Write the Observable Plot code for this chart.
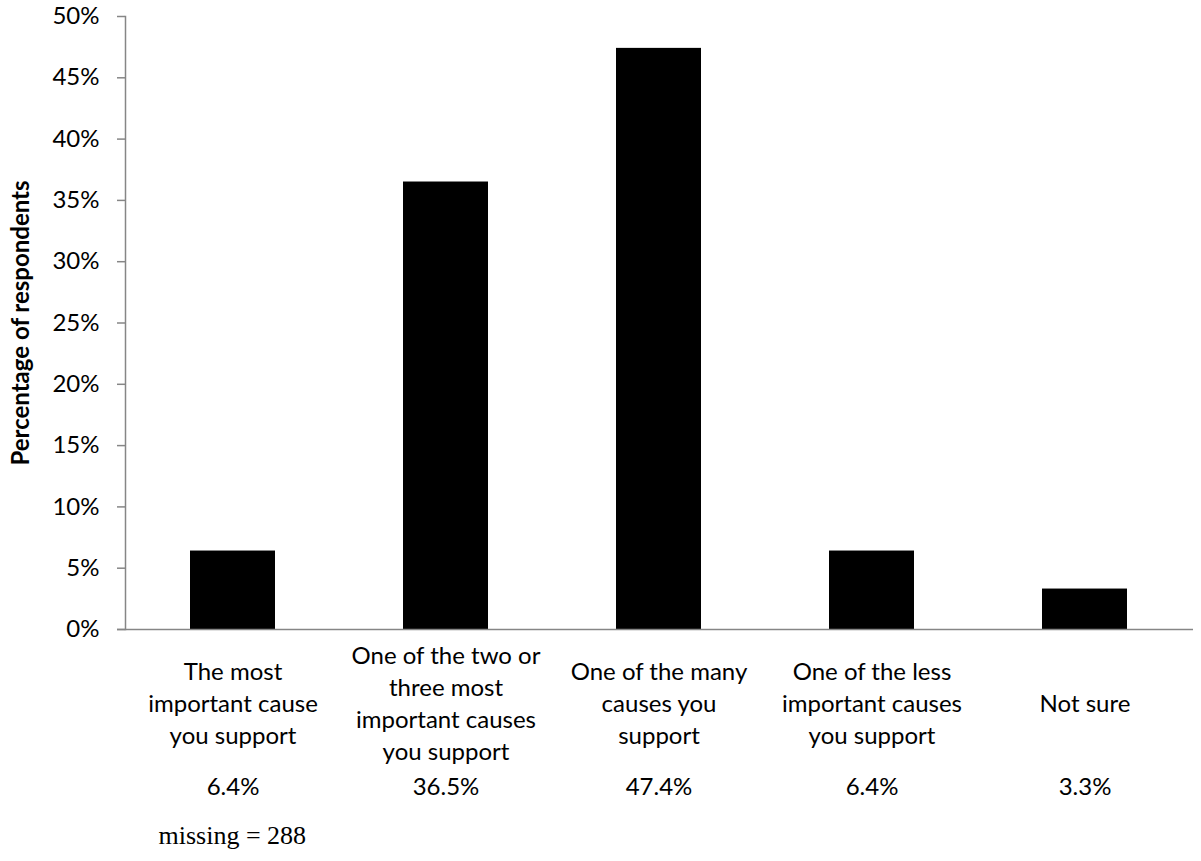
<!DOCTYPE html>
<html>
<head>
<meta charset="utf-8">
<script src="https://cdn.jsdelivr.net/npm/d3@7"></script>
<script src="https://cdn.jsdelivr.net/npm/@observablehq/plot@0.6"></script>
<style>
  html, body { margin: 0; padding: 0; background: #fff; }
</style>
</head>
<body>
<div id="chart"></div>
<script>
const categories = [
  "The most\nimportant cause\nyou support",
  "One of the two or\nthree most\nimportant causes\nyou support",
  "One of the many\ncauses you\nsupport",
  "One of the less\nimportant causes\nyou support",
  "Not sure"
];
const values = [6.4, 36.5, 47.4, 6.4, 3.3];
const yTicks = [0, 5, 10, 15, 20, 25, 30, 35, 40, 45, 50];
const yTitle = "Percentage of respondents";
const note = "missing = 288";

const data = categories.map((c, i) => ({cat: c, value: values[i]}));

const chart = Plot.plot({
  width: 1201,
  height: 861,
  marginTop: 16,
  marginBottom: 232,
  marginLeft: 125,
  marginRight: 8,
  style: {fontFamily: "Lato, sans-serif", fontSize: "24px", color: "#000", background: "#fff"},
  x: {domain: categories, paddingInner: 0.6, paddingOuter: 0.3, axis: null},
  y: {domain: [0, 50], axis: null},
  marks: [
    Plot.barY(data, {x: "cat", y: "value", fill: "black"}),
    Plot.frame({anchor: "left", stroke: "#868686", strokeWidth: 1.5}),
    Plot.ruleY([0], {stroke: "#868686", strokeWidth: 1.5, insetLeft: -8}),
    Plot.axisY({ticks: yTicks, tickFormat: d => d + "%", tickSize: 8, tickPadding: 18, stroke: "#868686", strokeWidth: 1.5, fill: "black", label: null, fontSize: 24}),
    Plot.text(data, {x: "cat", text: "cat", frameAnchor: "bottom", dy: 72, lineAnchor: "middle", lineHeight: 32 / 24, fontSize: 24, fill: "black"}),
    Plot.text(data, {x: "cat", text: d => d.value.toFixed(1) + "%", frameAnchor: "bottom", dy: 165, fontSize: 24, fill: "black"}),
    Plot.text([note], {text: d => d, frameAnchor: "bottom-left", dx: 33, dy: 214, textAnchor: "start", fontFamily: "Liberation Serif, serif", fontSize: 26, fill: "black"}),
    Plot.text([yTitle], {text: d => d, frameAnchor: "left", dx: -104, textAnchor: "middle", rotate: -90, fontWeight: "bold", fontSize: 24, fill: "black"})
  ]
});
document.getElementById("chart").appendChild(chart);
</script>
</body>
</html>
